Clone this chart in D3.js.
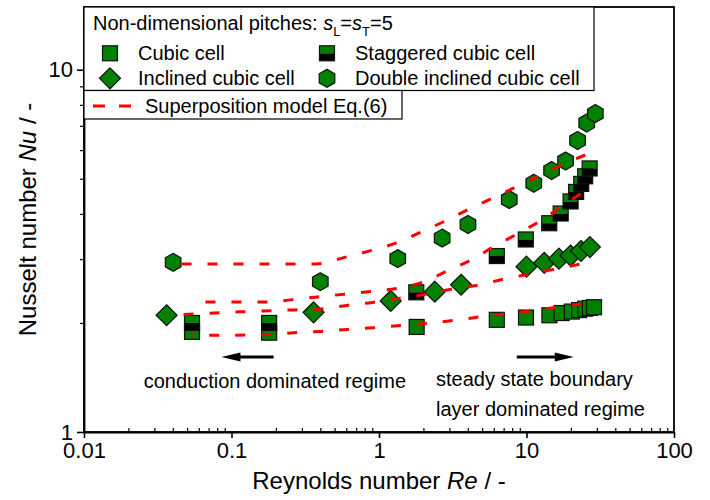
<!DOCTYPE html>
<html>
<head>
<meta charset="utf-8">
<script src="https://cdn.jsdelivr.net/npm/d3@7"></script>
<style>
  body { margin: 0; background: #fff; }
  svg { font-family: Arial, "Liberation Sans", Helvetica, sans-serif; }
</style>
</head>
<body>
<div id="chart"></div>
<script>
const width = 710,
  height = 500,
  margin = { top: 7, right: 36, bottom: 68, left: 84 };

// [Re, Nu]
const cubicCell = [[0.054, 1.89], [0.18, 1.88], [1.8, 1.95], [6.29, 2.04], [9.92, 2.07], [14.3, 2.1], [17.3, 2.13], [20.3, 2.15], [22.75, 2.17], [25.0, 2.19], [26.9, 2.2], [28.7, 2.21]];
const staggeredCell = [[0.054, 2.0], [0.18, 2.0], [1.79, 2.43], [6.29, 3.06], [9.89, 3.4], [14.26, 3.77], [17.05, 4.01], [19.9, 4.33], [21.7, 4.6], [23.5, 4.84], [25.0, 5.08], [26.8, 5.34]];
const inclinedCell = [[0.0363, 2.1], [0.36, 2.14], [1.2, 2.3], [2.39, 2.44], [3.6, 2.55], [10.0, 2.86], [13.2, 2.93], [16.6, 3.01], [19.9, 3.07], [23.4, 3.16], [26.9, 3.24]];
const doubleInclinedCell = [[0.0402, 2.94], [0.4, 2.6], [1.34, 3.01], [2.68, 3.43], [4.01, 3.74], [7.64, 4.38], [11.2, 4.86], [14.8, 5.27], [18.4, 5.6], [22.2, 6.38], [25.6, 7.13], [29.3, 7.57]];

// superposition model Eq.(6)
const modelCubic = [[0.0542, 1.847], [0.176, 1.857], [0.266, 1.879], [0.405, 1.895], [0.6075, 1.919], [0.918, 1.94], [1.398, 1.969], [2.13, 1.996], [3.19, 2.032], [4.79, 2.078], [7.07, 2.118], [10.77, 2.159], [16.15, 2.214], [26.6, 2.267]];
const modelStaggered = [[0.0542, 2.286], [0.1815, 2.286], [0.252, 2.316], [0.3836, 2.36], [0.58, 2.401], [0.876, 2.444], [1.313, 2.491], [1.97, 2.588], [2.864, 2.776], [4.163, 2.977], [6.05, 3.254], [8.66, 3.524], [12.59, 3.84], [17.46, 4.21], [27.0, 4.721]];
const modelInclined = [[0.0363, 2.098], [0.1137, 2.146], [0.2638, 2.173], [0.402, 2.187], [0.6026, 2.236], [0.904, 2.279], [1.355, 2.338], [2.064, 2.398], [3.095, 2.479], [4.79, 2.547], [7.07, 2.646], [10.77, 2.733], [15.9, 2.82], [26.2, 2.936]];
const modelDouble = [[0.0402, 2.911], [0.378, 2.911], [0.584, 3.034], [0.889, 3.172], [1.313, 3.327], [1.939, 3.567], [2.775, 3.815], [4.1, 4.13], [5.96, 4.43], [8.66, 4.767], [12.59, 5.128], [18.29, 5.516], [29.65, 5.974]];

const xTicks = [0.01, 0.1, 1, 10, 100];
const xTickLabels = ["0.01", "0.1", "1", "10", "100"];
const yTicks = [1, 10];
const yTickLabels = ["1", "10"];

const green = "#008000";
const edge = "#111";

const svg = d3
  .select("#chart")
  .append("svg")
  .attr("width", width)
  .attr("height", height);

const xScale = d3
  .scaleLog()
  .domain([0.01, 100])
  .range([margin.left, width - margin.right]);

const yScale = d3
  .scaleLog()
  .domain([1, 14.9])
  .range([height - margin.bottom, margin.top]);

const isDecade = v => Math.abs(Math.log10(v) - Math.round(Math.log10(v))) < 1e-6;

// frame
svg
  .append("rect")
  .attr("x", margin.left)
  .attr("y", margin.top)
  .attr("width", width - margin.right - margin.left)
  .attr("height", height - margin.bottom - margin.top)
  .attr("fill", "none")
  .attr("stroke", "#000")
  .attr("stroke-width", 1.8);

// minor ticks
svg
  .append("g")
  .attr("transform", `translate(0,${height - margin.bottom})`)
  .call(
    d3.axisBottom(xScale)
      .tickValues(xScale.ticks().filter(v => !isDecade(v)))
      .tickSize(-4)
      .tickSizeOuter(0)
      .tickFormat("")
  )
  .call(g => g.select(".domain").remove())
  .selectAll("line")
  .attr("stroke-width", 1.2);

svg
  .append("g")
  .attr("transform", `translate(${margin.left},0)`)
  .call(
    d3.axisLeft(yScale)
      .tickValues(yScale.ticks().filter(v => !isDecade(v)))
      .tickSize(4)
      .tickSizeOuter(0)
      .tickFormat("")
  )
  .call(g => g.select(".domain").remove())
  .selectAll("line")
  .attr("stroke-width", 1.2);

// major axes
const xAxis = svg
  .append("g")
  .attr("class", "axis x-axis")
  .attr("transform", `translate(0,${height - margin.bottom})`)
  .call(
    d3.axisBottom(xScale)
      .tickValues(xTicks)
      .tickSize(6)
      .tickSizeOuter(0)
      .tickPadding(4)
      .tickFormat((d, i) => xTickLabels[i])
  );

const yAxis = svg
  .append("g")
  .attr("class", "axis y-axis")
  .attr("transform", `translate(${margin.left},0)`)
  .call(
    d3.axisLeft(yScale)
      .tickValues(yTicks)
      .tickSize(7)
      .tickSizeOuter(0)
      .tickPadding(4)
      .tickFormat((d, i) => yTickLabels[i])
  );

[xAxis, yAxis].forEach(g => {
  g.select(".domain").attr("stroke-width", 1.8);
  g.selectAll("line").attr("stroke-width", 1.6);
  g.selectAll("text").attr("font-size", 22).attr("fill", "#000");
});

// axis titles
svg
  .append("text")
  .attr("x", (margin.left + width - margin.right) / 2)
  .attr("y", 489)
  .attr("text-anchor", "middle")
  .attr("font-size", 24)
  .call(t => {
    t.append("tspan").text("Reynolds number ");
    t.append("tspan").attr("font-style", "italic").text("Re");
    t.append("tspan").text(" / -");
  });

svg
  .append("text")
  .attr("transform", `translate(36,${(margin.top + height - margin.bottom) / 2}) rotate(-90)`)
  .attr("text-anchor", "middle")
  .attr("font-size", 24)
  .call(t => {
    t.append("tspan").text("Nusselt number ");
    t.append("tspan").attr("font-style", "italic").text("Nu");
    t.append("tspan").text(" / -");
  });

/* MARKERS */
const hexPath = r =>
  d3.range(6).map(i => {
    const a = (Math.PI / 3) * i - Math.PI / 2;
    return [r * Math.cos(a), r * Math.sin(a)];
  });

function drawSquare(g) {
  g.append("rect")
    .attr("x", -7.5).attr("y", -7.5)
    .attr("width", 15).attr("height", 15)
    .attr("fill", green).attr("stroke", edge).attr("stroke-width", 1.2);
}

function drawStaggered(g) {
  g.append("rect")
    .attr("x", -7.5).attr("y", -7.5)
    .attr("width", 15).attr("height", 7.5)
    .attr("fill", green);
  g.append("rect")
    .attr("x", -7.5).attr("y", 0)
    .attr("width", 15).attr("height", 7.5)
    .attr("fill", "#000");
  g.append("rect")
    .attr("x", -7.5).attr("y", -7.5)
    .attr("width", 15).attr("height", 15)
    .attr("fill", "none").attr("stroke", edge).attr("stroke-width", 1.2);
}

function drawDiamond(g) {
  g.append("path")
    .attr("d", "M0,-10.5L10.5,0L0,10.5L-10.5,0Z")
    .attr("fill", green).attr("stroke", edge).attr("stroke-width", 1.2);
}

function drawHexagon(g) {
  g.append("polygon")
    .attr("points", hexPath(9).map(p => p.join(",")).join(" "))
    .attr("fill", green).attr("stroke", edge).attr("stroke-width", 1.2);
}

const seriesList = [
  { data: cubicCell, draw: drawSquare },
  { data: staggeredCell, draw: drawStaggered },
  { data: inclinedCell, draw: drawDiamond },
  { data: doubleInclinedCell, draw: drawHexagon },
];

seriesList.forEach(s => {
  svg
    .append("g")
    .selectAll("g")
    .data(s.data)
    .join("g")
    .attr("transform", d => `translate(${xScale(d[0])},${yScale(d[1])})`)
    .each(function () {
      s.draw(d3.select(this));
    });
});

/* MODEL LINES */
const line = d3
  .line()
  .x(d => xScale(d[0]))
  .y(d => yScale(d[1]))
  .curve(d3.curveMonotoneX);

const models = [
  { data: modelCubic, offset: 9 },
  { data: modelStaggered, offset: 12.8 },
  { data: modelInclined, offset: 9 },
  { data: modelDouble, offset: 17.6 },
];

svg
  .append("g")
  .selectAll("path")
  .data(models)
  .join("path")
  .attr("d", d => line(d.data))
  .attr("fill", "none")
  .attr("stroke", "#ff0000")
  .attr("stroke-width", 3)
  .attr("stroke-dasharray", "10,16")
  .attr("stroke-dashoffset", d => d.offset);

/* ANNOTATIONS */
function arrow(x1, x2, y) {
  const dir = Math.sign(x2 - x1);
  svg.append("line")
    .attr("x1", x1).attr("x2", x2 - dir * 16)
    .attr("y1", y).attr("y2", y)
    .attr("stroke", "#000").attr("stroke-width", 2.8);
  svg.append("path")
    .attr("d", `M${x2},${y}L${x2 - dir * 19},${y - 4.5}L${x2 - dir * 19},${y + 4.5}Z`)
    .attr("fill", "#000");
}

arrow(xScale(0.193), xScale(0.0855), yScale(1.611));
arrow(xScale(8.59), xScale(20.9), yScale(1.611));

const notes = svg.append("g").attr("font-size", 20).attr("fill", "#000");
notes.append("text").attr("x", xScale(0.0254)).attr("y", 388).text("conduction dominated regime");
notes.append("text").attr("x", xScale(2.435)).attr("y", 386).text("steady state boundary");
notes.append("text").attr("x", xScale(2.435)).attr("y", 416).text("layer dominated regime");

/* LEGEND */
const legend = svg.append("g").attr("font-size", 20);

legend.append("rect")
  .attr("x", margin.left).attr("y", margin.top)
  .attr("width", 510).attr("height", 83.5)
  .attr("fill", "#fff").attr("stroke", "#000").attr("stroke-width", 1.2);

legend.append("rect")
  .attr("x", margin.left).attr("y", 90.5)
  .attr("width", 318).attr("height", 28.5)
  .attr("fill", "#fff").attr("stroke", "#000").attr("stroke-width", 1.2);

legend.append("text")
  .attr("x", 93).attr("y", 29.5)
  .call(t => {
    t.append("tspan").text("Non-dimensional pitches: ");
    t.append("tspan").attr("font-style", "italic").text("s");
    t.append("tspan").attr("font-size", 13).attr("dy", 6).text("L");
    t.append("tspan").attr("dy", -6).text("=");
    t.append("tspan").attr("font-style", "italic").text("s");
    t.append("tspan").attr("font-size", 13).attr("dy", 6).text("T");
    t.append("tspan").attr("dy", -6).text("=5");
  });

const legendItems = [
  { label: "Cubic cell", draw: drawSquare, x: 110, y: 53.3 },
  { label: "Staggered cubic cell", draw: drawStaggered, x: 327, y: 53.3 },
  { label: "Inclined cubic cell", draw: drawDiamond, x: 110, y: 78.3 },
  { label: "Double inclined cubic cell", draw: drawHexagon, x: 327, y: 78.3 },
];

legendItems.forEach(item => {
  const g = legend.append("g").attr("transform", `translate(${item.x},${item.y})`);
  item.draw(g);
  legend.append("text")
    .attr("x", item.x + 28)
    .attr("y", item.y + 7)
    .text(item.label);
});

legend.append("line")
  .attr("x1", 93).attr("x2", 131)
  .attr("y1", 106).attr("y2", 106)
  .attr("stroke", "#ff0000").attr("stroke-width", 3)
  .attr("stroke-dasharray", "12,14");

legend.append("text")
  .attr("x", 145).attr("y", 113)
  .text("Superposition model Eq.(6)");
</script>
</body>
</html>
